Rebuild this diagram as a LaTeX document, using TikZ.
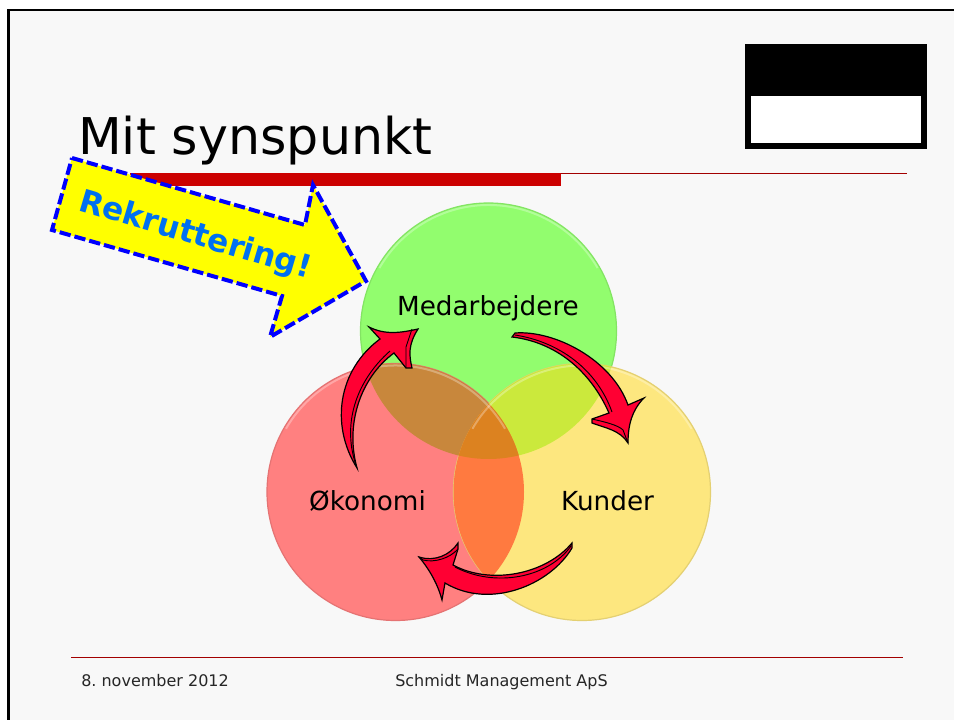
\documentclass[tikz,border=0pt]{standalone}
\usepackage{fontspec}
\setmainfont{DejaVu Sans}
\definecolor{slidebg}{HTML}{F8F8F8}
\definecolor{barred}{HTML}{CC0000}
\definecolor{bannerfill}{HTML}{FFFF00}
\definecolor{greencirc}{HTML}{92FD6E}
\definecolor{redcirc}{HTML}{FF8080}
\definecolor{yellowcirc}{HTML}{FDE77F}
\definecolor{brownlap}{HTML}{C8873C}
\definecolor{limelap}{HTML}{CBE93C}
\definecolor{orangelap}{HTML}{FF7A40}
\definecolor{midlap}{HTML}{DC8220}
\definecolor{arrowred}{HTML}{FF0033}
\definecolor{labelblue}{HTML}{0070F0}
\begin{document}
\frenchspacing
\begin{tikzpicture}[
  x=0.75pt, y=-0.75pt,
  label/.style={anchor=base, inner sep=0pt, font=\fontsize{19.7}{22}\selectfont},
  foot/.style={anchor=base west, inner sep=0pt, font=\fontsize{12}{14}\selectfont, text=black!85},
  circedge/.style={line width=0.9pt},
  rim/.style={white, opacity=0.3, line width=1.5pt},
  turn/.style={fill=arrowred, draw=black, line width=0.9pt, line join=miter},
  facet/.style={draw=black, line width=0.7pt}
]
\useasboundingbox (0,0) rectangle (954,720);
\fill[white] (0,0) rectangle (954,720);
\fill[slidebg] (8.5,10) rectangle (954,720);
\draw[line width=1.9pt] (8.5,720) -- (8.5,10) -- (954,10);

% Logo box
\fill[black] (745,44) rectangle (927,149);
\fill[white] (751,96) rectangle (921,143);

% Rules
\fill[barred] (130,173) rectangle (561,186);
\draw[barred!80!black, line width=0.6pt] (561,173) -- (907,173);
\draw[barred!80!black, line width=0.6pt] (71,657) -- (903,657);

\node[anchor=base west, inner sep=0pt, font=\fontsize{38}{44}\selectfont] (title) at (78,155) {Mit synspunkt};

% Circles
\fill[greencirc] (488.5,331) circle [radius=128];
\draw[greencirc!90!black, circedge] (488.5,331) circle [radius=128];
\fill[redcirc] (395.5,492) circle [radius=128.5];
\draw[redcirc!90!black, circedge] (395.5,492) circle [radius=128.5];
\fill[yellowcirc] (582,492) circle [radius=128.5];
\draw[yellowcirc!90!black, circedge] (582,492) circle [radius=128.5];

% Overlaps
\begin{scope}
\clip (488.5,331) circle [radius=128];
\fill[brownlap] (395.5,492) circle [radius=128.5];
\fill[limelap] (582,492) circle [radius=128.5];
\end{scope}
\begin{scope}
\clip (395.5,492) circle [radius=128.5];
\fill[orangelap] (582,492) circle [radius=128.5];
\clip (582,492) circle [radius=128.5];
\fill[midlap] (488.5,331) circle [radius=128];
\end{scope}
\foreach \cx/\cy/\cr in {488.5/331/126, 395.5/492/126.5, 582/492/126.5}
  \draw[rim] (\cx,\cy) ++(-150:\cr) arc[start angle=-150, end angle=-30, radius=\cr];

\node[label] (medarb) at (488,316) {Medarbejdere};
\node[label] (okonomi) at (367.5,510) {Økonomi};
\node[label] (kunder) at (607.5,510) {Kunder};

% Banner
\draw[fill=bannerfill, draw=blue, line width=3pt, dash pattern=on 8.5pt off 3pt]
  (72,158) -- (305,225) -- (313,185) -- (366,281) -- (270,337) -- (282,296) -- (52,230) -- cycle;
\node[inner sep=0pt, rotate=-16.5, text=labelblue, font=\fontsize{23.5}{26}\selectfont\bfseries] (rekrut) at (195,236) {Rekruttering!};

% Arrows
\draw[turn] (357,468) .. controls (330,425) and (338,370) .. (380,339) -- (369,327)
  .. controls (385,335) and (400,333) .. (418,329) .. controls (408,345) and (409,355) .. (412,368)
  -- (406,368) -- (394,353) .. controls (360,378) and (345,425) .. (357,468) -- cycle;
\draw[facet] (357,468) .. controls (341,425) and (356,381) .. (390,351);
\draw[facet] (412,329) -- (406,347) -- (406,368);

\draw[turn] (512,337) -- (515,333) .. controls (555,330) and (612,360) .. (628,405) -- (644,398)
  .. controls (632,410) and (628,425) .. (628,443) .. controls (620,430) and (605,428) .. (592,423)
  -- (592,419) -- (609,413) .. controls (590,370) and (555,342) .. (512,337) -- cycle;
\draw[facet] (515,335) .. controls (560,342) and (597,370) .. (612,412);
\draw[facet] (592,419) .. controls (605,422) and (618,425) .. (623,430) -- (628,443);

\draw[turn] (572,543) -- (572,548) .. controls (550,585) and (490,610) .. (445,583) -- (442,600)
  .. controls (438,585) and (430,570) .. (419,557) .. controls (435,562) and (450,555) .. (458,543)
  -- (458,549) -- (453,565) .. controls (490,585) and (545,575) .. (572,543) -- cycle;
\draw[facet] (455,567) .. controls (495,588) and (548,578) .. (571,546);
\draw[facet] (419,557) -- (423,560) .. controls (435,563) and (450,558) .. (458,549);

% Footer
\node[foot] (datefoot) at (81,686) {8. november 2012};
\node[foot] (company) at (395,686) {Schmidt Management ApS};
\end{tikzpicture}
\end{document}
